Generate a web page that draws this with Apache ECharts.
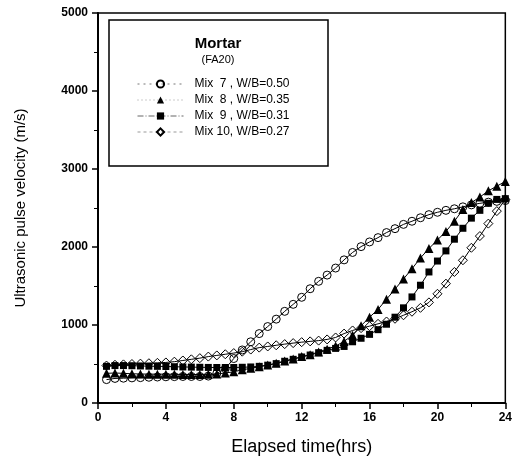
<!DOCTYPE html>
<html>
<head>
<meta charset="utf-8">
<script src="https://cdn.jsdelivr.net/npm/echarts@6/dist/echarts.min.js"></script>
<style>
  html, body { margin: 0; padding: 0; background: #fff; }
  #main { width: 515px; height: 463px; }
</style>
</head>
<body>
<div id="main"></div>
<script>
// elapsed time, hrs (every half hour)
const hours = [0.5, 1, 1.5, 2, 2.5, 3, 3.5, 4, 4.5, 5, 5.5, 6, 6.5, 7, 7.5, 8,
  8.5, 9, 9.5, 10, 10.5, 11, 11.5, 12, 12.5, 13, 13.5, 14, 14.5, 15, 15.5, 16,
  16.5, 17, 17.5, 18, 18.5, 19, 19.5, 20, 20.5, 21, 21.5, 22, 22.5, 23, 23.5, 24];

const mix7 = [300, 315, 318, 322, 325, 330, 333, 336, 338, 340, 340, 340, 345, 380, 440, 570,
  680, 785, 890, 980, 1075, 1175, 1265, 1355, 1465, 1560, 1640, 1730, 1835, 1930, 2005, 2065,
  2120, 2185, 2235, 2290, 2330, 2375, 2415, 2445, 2470, 2490, 2515, 2540, 2560, 2575, 2585, 2595];
const mix8 = [380, 385, 380, 375, 372, 370, 370, 370, 368, 365, 365, 365, 368, 372, 385, 400,
  425, 445, 465, 487, 510, 540, 565, 595, 620, 655, 690, 730, 790, 870, 990, 1100,
  1200, 1330, 1460, 1590, 1720, 1860, 1980, 2090, 2200, 2330, 2480, 2570, 2640, 2720, 2780, 2840];
const mix9 = [470, 480, 480, 478, 475, 472, 470, 468, 465, 462, 460, 458, 456, 455, 455, 455,
  458, 462, 470, 485, 505, 535, 560, 590, 615, 645, 675, 700, 725, 785, 830, 880,
  940, 1010, 1100, 1220, 1360, 1510, 1680, 1820, 1950, 2100, 2240, 2370, 2470, 2560, 2610, 2620];
const mix10 = [480, 490, 495, 500, 505, 510, 515, 520, 530, 545, 560, 575, 595, 610, 625, 640,
  658, 685, 710, 725, 740, 755, 768, 780, 790, 800, 815, 840, 890, 930, 960, 985,
  1015, 1045, 1080, 1125, 1170, 1220, 1290, 1400, 1530, 1680, 1830, 1990, 2140, 2300, 2460, 2610];

const names = ['Mix  7 , W/B=0.50', 'Mix  8 , W/B=0.35', 'Mix  9 , W/B=0.31', 'Mix 10, W/B=0.27'];

const chart = echarts.init(document.getElementById('main'));

function pairs(vals) {
  return hours.map((h, i) => [h, vals[i]]);
}

const open = { color: 'rgba(0,0,0,0)', borderColor: '#000', borderWidth: 1 };
const filled = { color: '#000', borderColor: '#000', borderWidth: 0 };

function line(name, vals, symbol, size, style) {
  return {
    name: name,
    type: 'line',
    data: pairs(vals),
    symbol: symbol,
    symbolSize: size,
    showAllSymbol: true,
    lineStyle: { color: '#000', width: 1, type: 'solid' },
    itemStyle: style,
    animation: false,
    z: 3
  };
}

const font = 'Arial, "Liberation Sans", sans-serif';

chart.setOption({
  backgroundColor: '#fff',
  animation: false,
  grid: {
    left: 98, right: 7, top: 13, bottom: 60,
    show: true, borderColor: '#000', borderWidth: 1.5
  },
  xAxis: {
    type: 'value',
    min: 0, max: 24, interval: 4,
    name: 'Elapsed time(hrs)',
    nameLocation: 'middle',
    nameGap: 35,
    nameTextStyle: { fontSize: 18, color: '#000', fontFamily: font },
    axisLine: { lineStyle: { color: '#000', width: 2 } },
    axisTick: { inside: false, length: 6, lineStyle: { color: '#000', width: 1.5 } },
    minorTick: { show: true, splitNumber: 2, length: 4, lineStyle: { color: '#000', width: 1 } },
    axisLabel: { color: '#000', fontSize: 12, fontWeight: 'bold', fontFamily: font, margin: 9 },
    splitLine: { show: false }
  },
  yAxis: {
    type: 'value',
    min: 0, max: 5000, interval: 1000,
    name: 'Ultrasonic pulse velocity (m/s)',
    nameLocation: 'middle',
    nameGap: 70,
    nameTextStyle: { fontSize: 15, color: '#000', fontFamily: font },
    axisLine: { lineStyle: { color: '#000', width: 2 } },
    axisTick: { inside: false, length: 6, lineStyle: { color: '#000', width: 1.5 } },
    minorTick: { show: true, splitNumber: 2, length: 4, lineStyle: { color: '#000', width: 1 } },
    axisLabel: {
      color: '#000', fontSize: 12, fontWeight: 'bold', fontFamily: font, margin: 10,
      formatter: v => String(v)
    },
    splitLine: { show: false }
  },
  legend: {
    orient: 'vertical',
    left: 132,
    top: 73,
    itemGap: 4,
    itemWidth: 46,
    itemHeight: 9,
    textStyle: { fontSize: 12, color: '#000', fontFamily: font, padding: [0, 0, 0, 6] },
    data: [
      { name: names[0], lineStyle: { type: [2, 4], color: '#777', width: 1 } },
      { name: names[1], lineStyle: { type: [1, 3], color: '#999', width: 1 } },
      { name: names[2], lineStyle: { type: [6, 2, 1, 2], color: '#666', width: 1 } },
      { name: names[3], lineStyle: { type: [3, 3], color: '#999', width: 1 } }
    ]
  },
  graphic: [
    {
      type: 'rect',
      shape: { x: 109, y: 20, width: 219, height: 146 },
      style: { fill: '#fff', stroke: '#000', lineWidth: 1.5 },
      z: 1
    },
    {
      type: 'text',
      x: 218, y: 44,
      style: { text: 'Mortar', fill: '#000', font: 'bold 15px ' + font, textAlign: 'center', textVerticalAlign: 'middle' },
      z: 2
    },
    {
      type: 'text',
      x: 218, y: 60,
      style: { text: '(FA20)', fill: '#000', font: '11px ' + font, textAlign: 'center', textVerticalAlign: 'middle' },
      z: 2
    }
  ],
  series: [
    line(names[0], mix7, 'circle', 8, open),
    line(names[1], mix8, 'triangle', 9, filled),
    line(names[2], mix9, 'rect', 7, filled),
    line(names[3], mix10, 'diamond', 9, open)
  ]
});
</script>
</body>
</html>
